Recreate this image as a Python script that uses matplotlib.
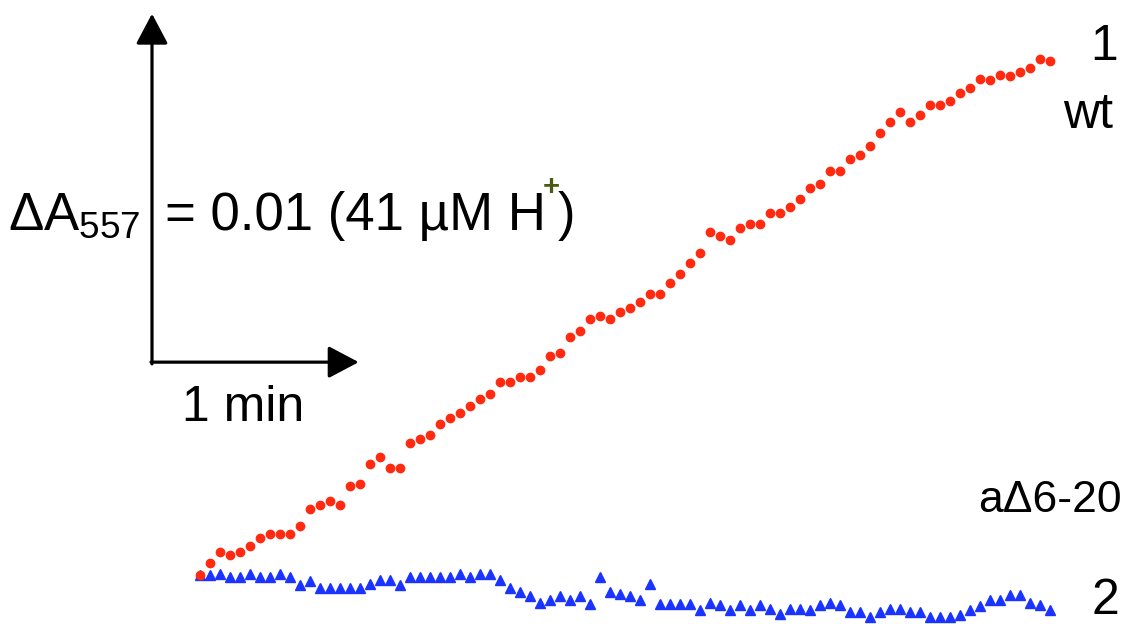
import numpy as np
import matplotlib.pyplot as plt

plt.rcParams['font.family'] = ['Liberation Sans', 'DejaVu Sans']
plt.rcParams['mathtext.fontset'] = 'custom'
plt.rcParams['mathtext.rm'] = 'Liberation Sans'
plt.rcParams['mathtext.it'] = 'Liberation Sans:italic'

# Absorbance change at 557 nm (in units of 0.001), one reading every 3 s
dt_s = 3.0
wt_mA = [0.00, 0.36, 0.68, 0.58, 0.68, 0.85, 1.08, 1.19, 1.19, 1.19,
         1.42, 1.91, 2.03, 2.15, 2.03, 2.59, 2.64, 3.22, 3.43, 3.09,
         3.09, 3.82, 3.93, 4.06, 4.38, 4.55, 4.69, 4.90, 5.10, 5.24,
         5.60, 5.60, 5.75, 5.75, 5.94, 6.35, 6.44, 6.91, 7.07, 7.41,
         7.52, 7.41, 7.63, 7.75, 7.92, 8.15, 8.15, 8.47, 8.73, 9.04,
         9.33, 9.93, 9.83, 9.71, 10.05, 10.17, 10.17, 10.48, 10.48, 10.66,
         10.90, 11.23, 11.33, 11.72, 11.72, 12.06, 12.17, 12.44, 12.80, 13.14,
         13.43, 13.14, 13.32, 13.62, 13.62, 13.74, 13.96, 14.13, 14.37, 14.35,
         14.49, 14.47, 14.59, 14.69, 14.95, 14.91]
mut_mA = [0.00, 0.00, 0.02, -0.05, -0.05, 0.02, -0.05, -0.05, 0.02, -0.05,
          -0.29, -0.17, -0.39, -0.39, -0.39, -0.39, -0.39, -0.27, -0.14, -0.14,
          -0.29, -0.05, -0.05, -0.05, -0.05, -0.05, 0.02, -0.05, 0.02, 0.02,
          -0.14, -0.39, -0.48, -0.60, -0.82, -0.72, -0.60, -0.72, -0.60, -0.84,
          -0.07, -0.50, -0.56, -0.61, -0.72, -0.26, -0.84, -0.84, -0.84, -0.84,
          -1.01, -0.82, -0.87, -1.01, -0.87, -1.01, -0.87, -0.99, -1.13, -0.99,
          -0.99, -1.00, -0.87, -0.80, -0.87, -1.08, -1.08, -1.21, -1.08, -0.99,
          -0.99, -1.08, -1.08, -1.21, -1.21, -1.21, -1.16, -1.01, -0.90, -0.72,
          -0.72, -0.58, -0.58, -0.82, -0.87, -1.01]
time_s = np.arange(len(wt_mA)) * dt_s

W, H = 1137, 624
fig = plt.figure(figsize=(W / 100, H / 100), dpi=100)
ax = fig.add_axes([0, 0, 1, 1])
ax.set_xlim(-60, 281.1)
ax.set_ylim(-1.42, 16.667)
ax.axis('off')

ax.plot(time_s, mut_mA, linestyle='none', marker='^', ms=6.5, color='#1a33ff', mec='#1a33ff')
ax.plot(time_s, wt_mA, linestyle='none', marker='o', ms=6, color='#ff2a10', mec='#ff2a10')

# scale bar: 1 min and dA = 0.01
t0, a0 = -14.4, 6.17
arrow = dict(arrowstyle='-|>,head_length=0.85,head_width=0.45', lw=2.3, color='black',
             mutation_scale=22, shrinkA=0, shrinkB=0)
ax.annotate('', xy=(t0 + 62, a0), xytext=(t0 - 0.3, a0), arrowprops=arrow)
ax.annotate('', xy=(t0, a0 + 10.1), xytext=(t0, a0 - 0.05), arrowprops=arrow)


def fx(x):
    return x / W


def fy(y):
    return 1 - y / H


fs = 38
fig.text(fx(140), fy(230), r'ΔA$_{\mathrm{557}}$', fontsize=fs, ha='right', va='baseline')
t = fig.text(fx(165), fy(230), '= 0.01 (41 µM H', fontsize=fs, ha='left', va='baseline')
fig.canvas.draw()
bb = t.get_window_extent()
fig.text((bb.x1 - 3) / W, fy(195), '+', fontsize=21, fontweight='bold', color='#4a5a10',
         ha='left', va='baseline')
fig.text((bb.x1 + 12) / W, fy(230), ')', fontsize=fs, ha='left', va='baseline')
fig.text(fx(243), fy(421), '1 min', fontsize=36, ha='center', va='baseline')

fig.text(fx(1104), fy(60), '1', fontsize=36, ha='center', va='baseline')
fig.text(fx(1088), fy(128), 'wt', fontsize=36, ha='center', va='baseline')
fig.text(fx(1122), fy(512), 'aΔ6-20', fontsize=32, ha='right', va='baseline')
fig.text(fx(1105), fy(614), '2', fontsize=36, ha='center', va='baseline')

fig.savefig('out.png', dpi=100)
